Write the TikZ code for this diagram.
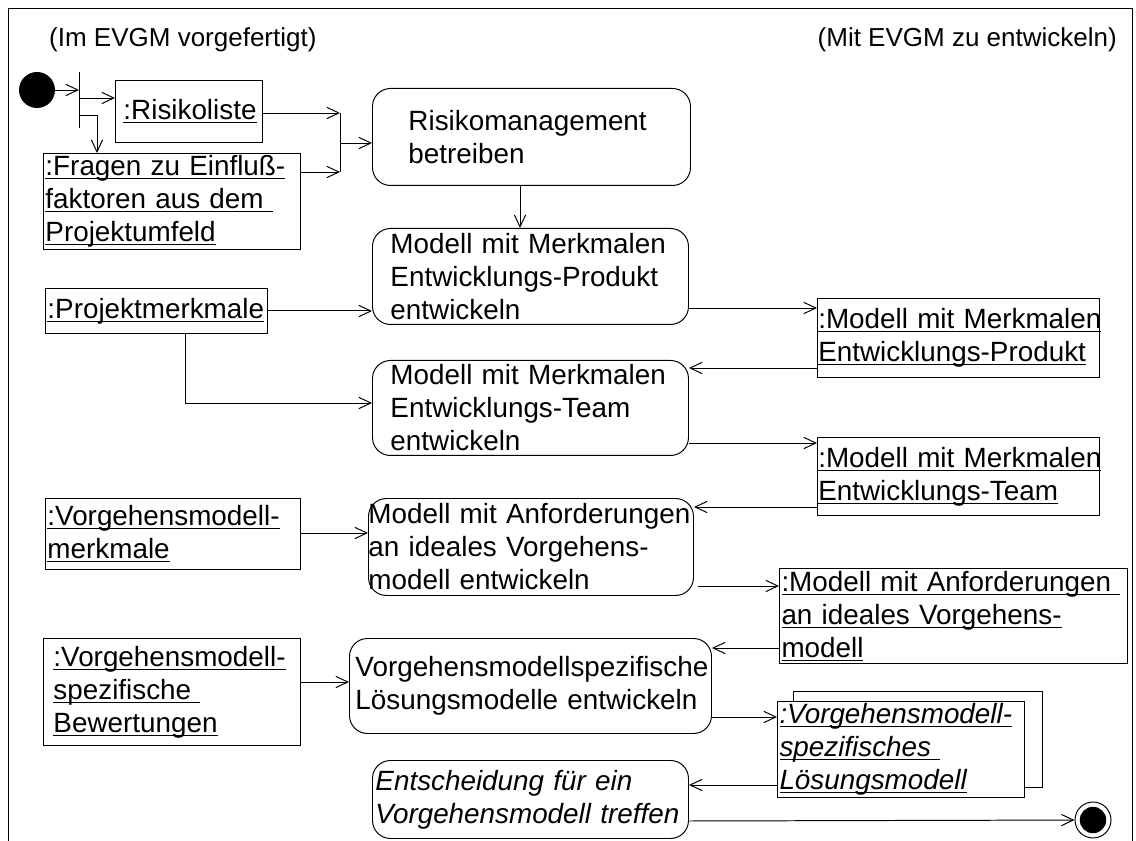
\documentclass[tikz,border=0pt]{standalone}
\usepackage{fontspec}
\setmainfont{Liberation Sans}
\usetikzlibrary{arrows.meta}
\hyphenpenalty=10000
\exhyphenpenalty=10000
% underlined line of an object box
\newcommand\objline[1]{\leavevmode\setbox0\hbox{#1}\rlap{\rule[-2.6pt]{\wd0}{0.7pt}}\box0}

\begin{document}
\begin{tikzpicture}[y=-1cm, line width=0.7pt,
    every node/.style={font=\fontsize{19.8}{23.5}\selectfont},
    flow/.style={-{Straight Barb[length=8.5pt,width=8pt]}},
    obj/.style={draw, fill=white, anchor=north west, align=left, inner ysep=0pt},
    act/.style={obj, rounded corners=0.45cm},
    geom/.style n args={4}{minimum width=#1cm, minimum height=#2cm, text width=#3cm, inner xsep=#4cm}]
    \useasboundingbox (0,0) rectangle (28.4,21.025);
    \draw (0.2,21.025) -- (0.2,0.2) -- (28.3,0.2) -- (28.3,21.025);
    \node[anchor=west, font=\fontsize{18.5}{22}\selectfont] (left head) at (1.1,1.0) {(Im EVGM vorgefertigt)};
    \node[anchor=east, font=\fontsize{18.5}{22}\selectfont] (right head) at (28.05,1.0) {(Mit EVGM zu entwickeln)};

    \node[circle, fill, minimum size=0.9cm, inner sep=0pt] (start) at (0.925,2.25) {};
    \coordinate (fork top) at (1.975,1.8);
    \coordinate (fork bot) at (1.975,3.2);
    \draw (fork top) -- (fork bot);

    \node[obj, geom={3.675}{1.55}{3.275}{0.2}] (risk) at (2.875,2.0) {\objline{:Risikoliste}};
    \node[obj, geom={6.425}{2.4}{6.325}{0.05}] (fragen) at (1.075,3.825) {\objline{:Fragen zu Einfluß-}\\\objline{faktoren aus dem }\\\objline{Projektumfeld}};
    \node[act, geom={7.95}{2.425}{6.15}{0.9}] (rm) at (9.3,2.2) {Risikomanagement\\betreiben};
    \node[act, geom={7.9}{2.4}{7.0}{0.45}] (prod) at (9.3,5.7) {Modell mit Merkmalen\\Entwicklungs-Produkt\\entwickeln};
    \node[obj, geom={5.55}{1.125}{5.45}{0.05}] (pm) at (1.125,7.2) {\objline{:Projektmerkmale}};
    \node[act, geom={7.9}{2.375}{7.0}{0.45}] (team) at (9.3,9.0) {Modell mit Merkmalen\\Entwicklungs-Team\\entwickeln};
    \node[obj, geom={7.05}{1.975}{7.01}{0.02}] (prodout) at (20.425,7.45) {\objline{:Modell mit Merkmalen}\\\objline{Entwicklungs-Produkt}};
    \node[obj, geom={7.05}{1.95}{7.01}{0.02}] (teamout) at (20.425,10.925) {\objline{:Modell mit Merkmalen}\\\objline{Entwicklungs-Team}};
    \node[obj, geom={6.375}{1.775}{6.275}{0.05}] (vm) at (1.125,12.45) {\objline{:Vorgehensmodell-}\\\objline{merkmale}};
    \node[act, geom={8.125}{2.425}{8.125}{0}] (anf) at (9.2,12.45) {Modell mit Anforderungen\\an ideales Vorgehens-\\modell entwickeln};
    \node[obj, geom={8.7}{2.375}{8.6}{0.05}] (anfout) at (19.475,14.2) {\objline{:Modell mit Anforderungen }\\\objline{an ideales Vorgehens-}\\\objline{modell}};
    \node[obj, geom={6.425}{2.675}{5.925}{0.25}] (bew) at (1.075,15.95) {\objline{:Vorgehensmodell-}\\\objline{spezifische }\\\objline{Bewertungen}};
    \node[act, geom={9.05}{2.375}{8.75}{0.15}] (loes) at (8.725,15.95) {Vorgehensmodellspezifische\\Lösungsmodelle entwickeln};
    \node[draw, anchor=north west, minimum width=6.225cm, minimum height=2.4cm, inner sep=0pt] (lsg back) at (19.825,17.275) {};
    \node[obj, geom={6.175}{2.4}{6.075}{0.05}] (lsg) at (19.425,17.525) {\itshape\objline{:Vorgehensmodell-}\\\objline{spezifisches }\\\objline{Lösungsmodell}};
    \node[act, geom={7.9}{1.95}{7.75}{0.075}] (ent) at (9.3,19.0) {\itshape Entscheidung für ein\\Vorgehensmodell treffen};
    \node[circle, draw, minimum size=0.9cm, inner sep=0pt] (final) at (27.325,20.5) {};
    \fill (final.center) circle (0.33);

    % start and fork
    \draw[flow] (start) -- (start -| fork top);
    \draw[flow] (fork top |- 0,2.45) -- (risk.west |- 0,2.45);
    \draw[flow] (fork top |- 0,2.875) -| (fragen.north -| 2.425,0);

    % join to Risikomanagement
    \coordinate (join top) at (8.5,2.825);
    \coordinate (join bot) at (8.5,4.3);
    \draw (join top) -- (join bot);
    \draw[flow] (risk.east |- join top) -- (join top);
    \draw[flow] (fragen.east |- join bot) -- (join bot);
    \draw[flow] (join top |- 0,3.575) -- (rm.west |- 0,3.575);
    \draw[flow] (rm.south -| 13,0) -- (prod.north -| 13,0);

    \draw[flow] (pm.east) -- (pm.east -| prod.west);
    \draw[flow] (pm.south -| 4.625,0) |- (team.west |- 0,10.075);
    \draw[flow] (prod.east |- 0,7.7) -- (prodout.west |- 0,7.7);
    \draw[flow] (prodout.west |- 0,9.2) -- (team.east |- 0,9.2);
    \draw[flow] (team.east |- 0,11.075) -- (teamout.west |- 0,11.075);
    \draw[flow] (teamout.west |- 0,12.675) -- (anf.east |- 0,12.675);
    \draw[flow] (vm.east |- 0,13.325) -- (anf.west |- 0,13.325);
    \draw[flow] ([xshift=0.1cm]anf.east |- 0,14.65) -- (anfout.west |- 0,14.65);
    \draw[flow] (anfout.west |- 0,16.2) -- (loes.east |- 0,16.2);
    \draw[flow] (bew.east |- 0,17.05) -- (loes.west |- 0,17.05);
    \draw[flow] (loes.east |- 0,17.925) -- (lsg.west |- 0,17.925);
    \draw[flow] (lsg.west |- 0,19.625) -- (ent.east |- 0,19.625);
    \draw[flow] (ent.east |- 0,20.525) -- (final);
\end{tikzpicture}
\end{document}
